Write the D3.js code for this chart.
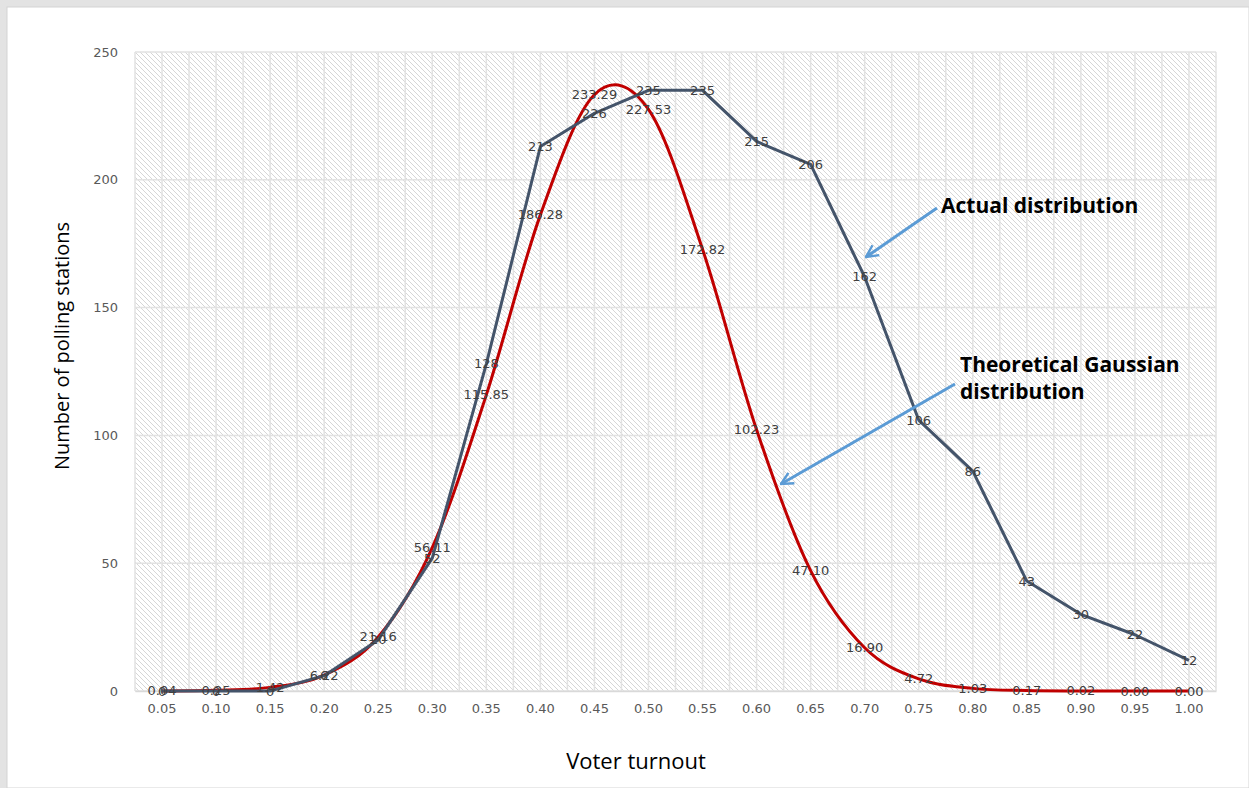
<!DOCTYPE html>
<html>
<head>
<meta charset="utf-8">
<script src="https://cdn.jsdelivr.net/npm/d3@7"></script>
<style>
  body { margin: 0; background: #e3e3e3; }
  svg { display: block; font-family: "Open Sans", sans-serif; }
</style>
</head>
<body>
<div id="chart"></div>
<script>
// Turnout categories
const turnout = ["0.05","0.10","0.15","0.20","0.25","0.30","0.35","0.40","0.45","0.50",
                 "0.55","0.60","0.65","0.70","0.75","0.80","0.85","0.90","0.95","1.00"];
// Actual number of polling stations
const actual = [0, 0, 0, 6, 20, 52, 128, 213, 226, 235, 235, 215, 206, 162, 106, 86, 43, 30, 22, 12];
// Theoretical Gaussian
const gaussian = [0.04, 0.25, 1.42, 6.22, 21.16, 56.11, 115.85, 186.28, 233.29, 227.53,
                  172.82, 102.23, 47.10, 16.90, 4.72, 1.03, 0.17, 0.02, 0.00, 0.00];
const yTicks = [0, 50, 100, 150, 200, 250];

const W = 1249, H = 788;
const margin = { top: 52, right: 33, bottom: 97, left: 135 };
const width = W - margin.left - margin.right;
const height = H - margin.top - margin.bottom;
const labelFont = "DejaVu Sans, sans-serif";

const svg = d3.select("#chart").append("svg")
  .attr("width", W)
  .attr("height", H);

// white chart card
svg.append("rect").attr("x", 7).attr("y", 7).attr("width", W - 7).attr("height", H - 7)
  .attr("fill", "#fff").attr("stroke", "#d4d4d4");

// hatch pattern
const defs = svg.append("defs");
const pat = defs.append("pattern")
  .attr("id", "hatch")
  .attr("patternUnits", "userSpaceOnUse")
  .attr("width", 5).attr("height", 5);
pat.append("rect").attr("width", 5).attr("height", 5).attr("fill", "#fff");
pat.append("path").attr("d", "M-1,-1 L6,6 M-1,4 L1,6 M4,-1 L6,1")
  .attr("stroke", "#d6d6d6").attr("stroke-width", 1);

defs.append("marker")
  .attr("id", "arrow")
  .attr("viewBox", "0 0 10 10")
  .attr("refX", 9).attr("refY", 5)
  .attr("markerWidth", 5).attr("markerHeight", 5)
  .attr("orient", "auto")
  .append("path")
  .attr("d", "M1,1 L9,5 L1,9")
  .attr("fill", "none").attr("stroke", "#5b9bd5").attr("stroke-width", 1.6);

const g = svg.append("g").attr("transform", `translate(${margin.left},${margin.top})`);

const x = d3.scaleBand().domain(turnout).range([0, width]);
const xc = d => x(d) + x.bandwidth() / 2;
const y = d3.scaleLinear().domain([0, 250]).range([height, 0]);

g.append("rect").attr("width", width).attr("height", height)
  .attr("fill", "url(#hatch)");

// vertical gridlines: category centres and boundaries
const vLines = [];
turnout.forEach(t => { vLines.push(x(t)); vLines.push(xc(t)); });
vLines.push(width);
g.append("g").selectAll("line").data(vLines).join("line")
  .attr("x1", d => d).attr("x2", d => d).attr("y1", 0).attr("y2", height)
  .attr("stroke", "#e2e2e2").attr("stroke-width", 1.5);

g.append("g").selectAll("line").data(yTicks).join("line")
  .attr("x1", 0).attr("x2", width).attr("y1", d => y(d)).attr("y2", d => y(d))
  .attr("stroke", "#e2e2e2").attr("stroke-width", 1.5);

// axes
const yAxis = g.append("g").attr("transform", "translate(-9,0)")
  .call(d3.axisLeft(y).tickValues(yTicks).tickSize(0).tickPadding(8));
yAxis.select(".domain").remove();
yAxis.selectAll("text").attr("font-size", 13).attr("fill", "#595959")
  .attr("font-family", labelFont);

const xAxis = g.append("g").attr("transform", `translate(0,${height})`)
  .call(d3.axisBottom(x).tickSize(0).tickPadding(13));
xAxis.select(".domain").attr("stroke", "#d9d9d9").attr("stroke-width", 1.5);
xAxis.selectAll("text").attr("font-size", 13).attr("fill", "#595959")
  .attr("font-family", labelFont);

// lines
const gaussLine = d3.line().x((d, i) => xc(turnout[i])).y(d => y(d))
  .curve(d3.curveCatmullRom.alpha(0));
const actualLine = d3.line().x((d, i) => xc(turnout[i])).y(d => y(d));

g.append("path").datum(gaussian).attr("d", gaussLine)
  .attr("fill", "none").attr("stroke", "#c00000").attr("stroke-width", 3)
  .attr("stroke-linejoin", "round");
g.append("path").datum(actual).attr("d", actualLine)
  .attr("fill", "none").attr("stroke", "#44546a").attr("stroke-width", 3)
  .attr("stroke-linejoin", "round");

// data labels centred on points
g.append("g").selectAll("text").data(gaussian).join("text")
  .attr("x", (d, i) => xc(turnout[i])).attr("y", d => y(d))
  .attr("dy", "0.35em").attr("text-anchor", "middle")
  .attr("font-size", 13).attr("fill", "#404040").attr("font-family", labelFont)
  .text(d => d.toFixed(2));
g.append("g").selectAll("text").data(actual).join("text")
  .attr("x", (d, i) => xc(turnout[i])).attr("y", d => y(d))
  .attr("dy", "0.35em").attr("text-anchor", "middle")
  .attr("font-size", 13).attr("fill", "#404040").attr("font-family", labelFont)
  .text(d => d);

// axis titles
svg.append("text")
  .attr("transform", "translate(69,346) rotate(-90)")
  .attr("text-anchor", "middle").attr("font-size", 20).attr("fill", "#000")
  .text("Number of polling stations");
svg.append("text")
  .attr("x", 636).attr("y", 769)
  .attr("text-anchor", "middle").attr("font-size", 22).attr("fill", "#000")
  .text("Voter turnout");

// annotations
svg.append("line").attr("x1", 937).attr("y1", 208).attr("x2", 866).attr("y2", 257)
  .attr("stroke", "#5b9bd5").attr("stroke-width", 3).attr("marker-end", "url(#arrow)");
svg.append("text").attr("x", 941).attr("y", 213)
  .attr("font-size", 21).attr("font-weight", "bold").attr("fill", "#000")
  .text("Actual distribution");

svg.append("line").attr("x1", 955).attr("y1", 384).attr("x2", 781).attr("y2", 484)
  .attr("stroke", "#5b9bd5").attr("stroke-width", 3).attr("marker-end", "url(#arrow)");
const t2 = svg.append("text").attr("x", 960).attr("y", 372)
  .attr("font-size", 21).attr("font-weight", "bold").attr("fill", "#000");
t2.append("tspan").attr("x", 960).text("Theoretical Gaussian");
t2.append("tspan").attr("x", 960).attr("dy", 27).text("distribution");
</script>
</body>
</html>
